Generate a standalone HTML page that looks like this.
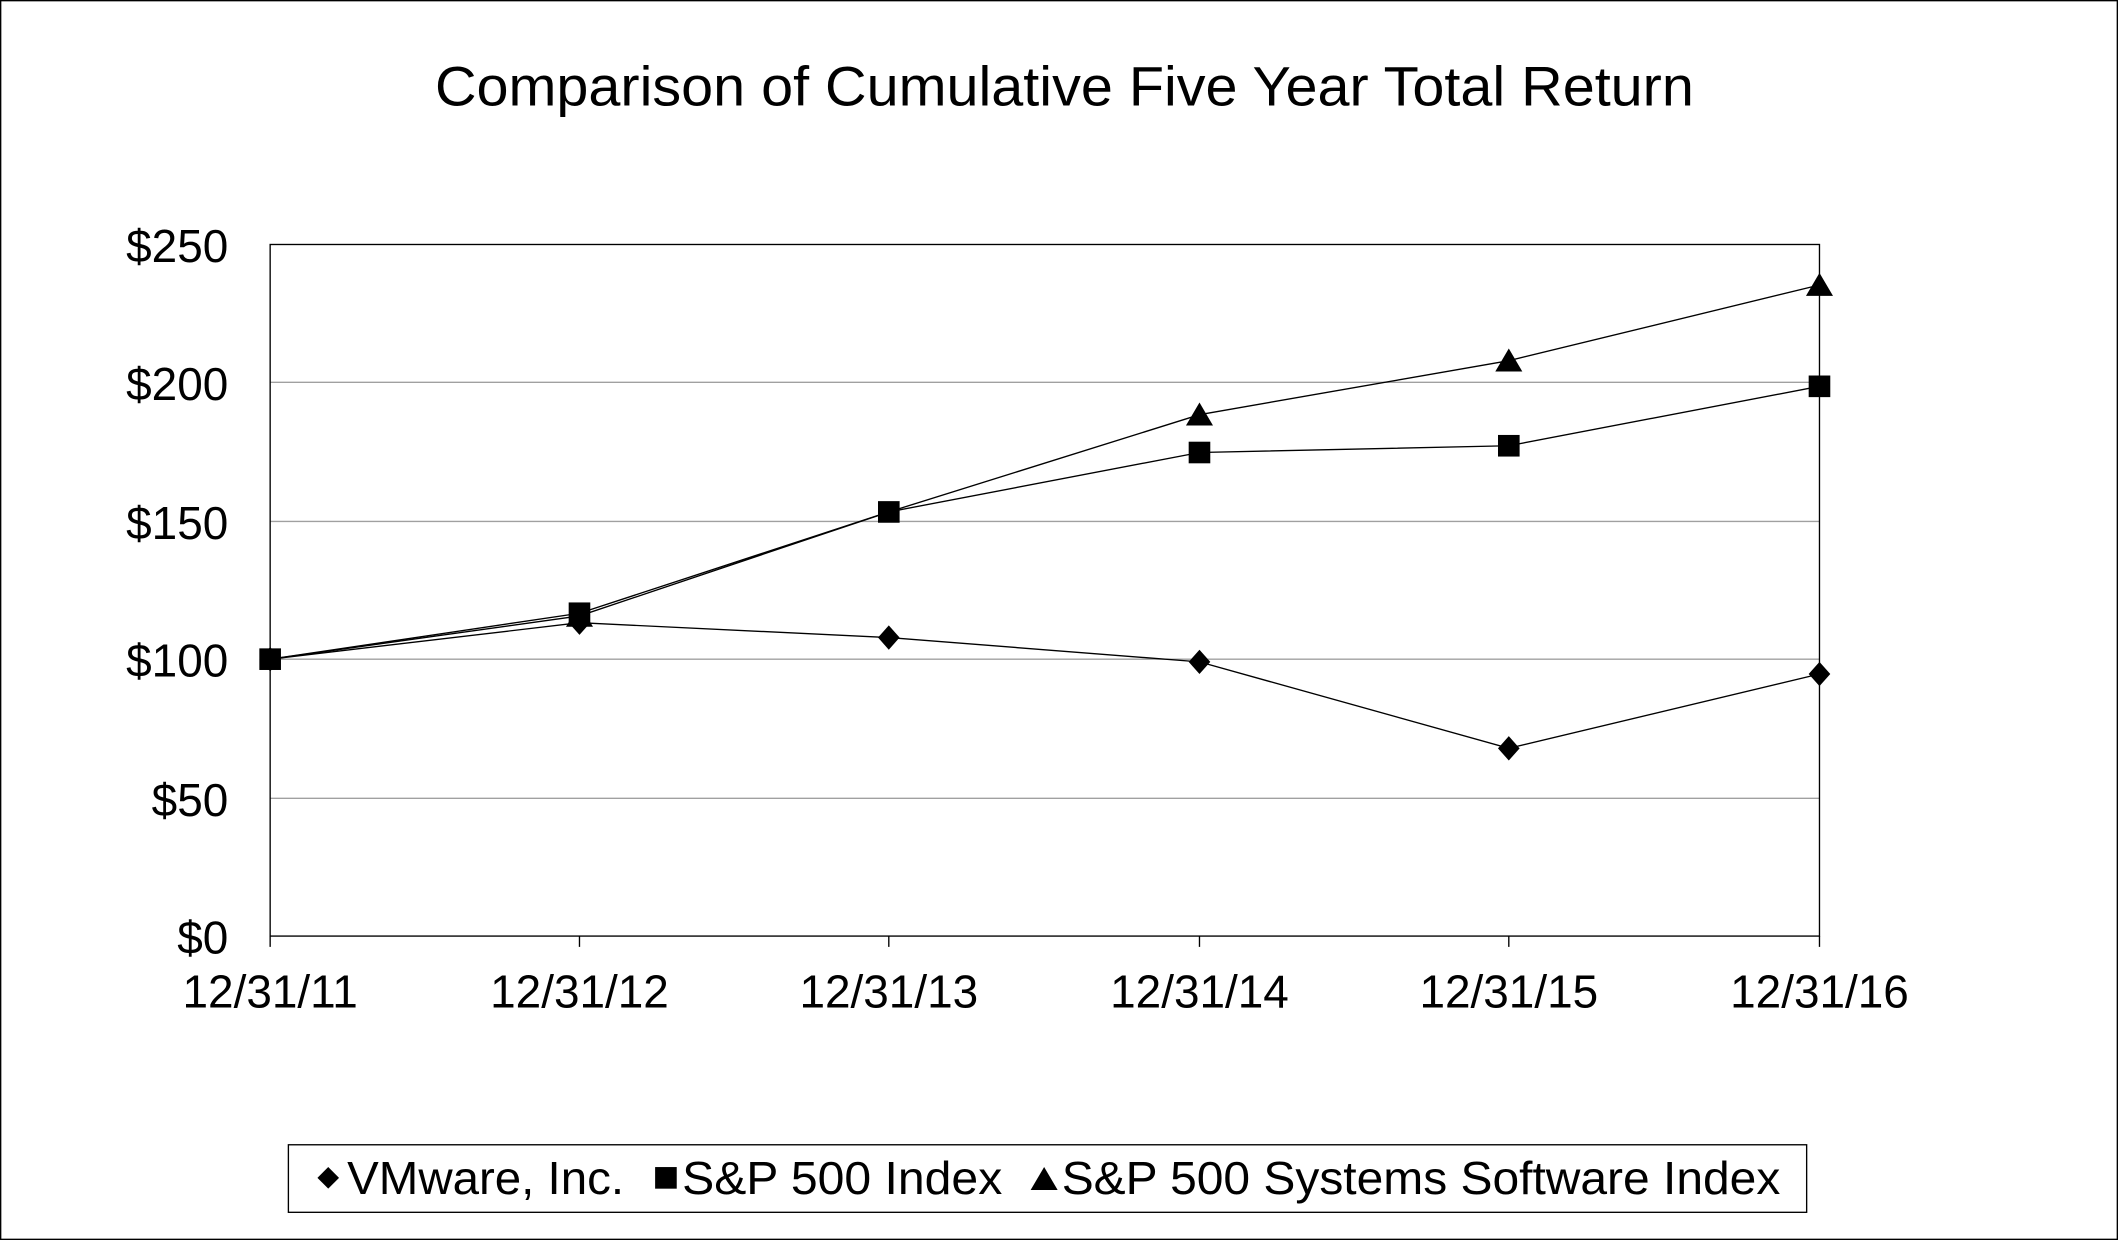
<!DOCTYPE html>
<html><head><meta charset="utf-8"><style>
html,body{margin:0;padding:0;background:#fff;}
svg{display:block;}
text{font-family:"Liberation Sans",Arial,sans-serif;fill:#000;}
</style></head><body>
<svg width="2118" height="1240" viewBox="0 0 1568 918" xmlns="http://www.w3.org/2000/svg">
<rect x="0.5" y="0.5" width="1567" height="917" fill="#fff" stroke="#000" stroke-width="1"/>
<text x="322" y="78" font-size="41" textLength="932" lengthAdjust="spacingAndGlyphs">Comparison of Cumulative Five Year Total Return</text>
<g stroke="#a0a0a0" stroke-width="1">
<line x1="200" y1="283" x2="1347" y2="283"/>
<line x1="200" y1="386" x2="1347" y2="386"/>
<line x1="200" y1="488" x2="1347" y2="488"/>
<line x1="200" y1="591" x2="1347" y2="591"/>
</g>
<rect x="200" y="181" width="1147" height="512" fill="none" stroke="#000" stroke-width="1"/>
<g stroke="#000" stroke-width="1">
<line x1="200" y1="693" x2="200" y2="701"/><line x1="429" y1="693" x2="429" y2="701"/>
<line x1="658" y1="693" x2="658" y2="701"/><line x1="888" y1="693" x2="888" y2="701"/>
<line x1="1117" y1="693" x2="1117" y2="701"/><line x1="1347" y1="693" x2="1347" y2="701"/>
</g>
<g font-size="34" text-anchor="end">
<text x="169" y="194">$250</text><text x="169" y="296">$200</text>
<text x="169" y="399">$150</text><text x="169" y="501">$100</text>
<text x="169" y="604">$50</text><text x="169" y="706">$0</text>
</g>
<g font-size="34" text-anchor="middle">
<text x="200" y="746">12/31/11</text><text x="429" y="746">12/31/12</text>
<text x="658" y="746">12/31/13</text><text x="888" y="746">12/31/14</text>
<text x="1117" y="746">12/31/15</text><text x="1347" y="746">12/31/16</text>
</g>
<g fill="none" stroke="#000" stroke-width="1">
<polyline points="200,488 429,461 658,472 888,490 1117,554 1347,499"/>
<polyline points="200,488 429,454 658,379 888,335 1117,330 1347,286"/>
<polyline points="200,488 429,456 658,379 888,307 1117,267 1347,211"/>
</g>
<g fill="#000">
<path d="M429,452 l8,9 -8,9 -8,-9z"/><path d="M658,463 l8,9 -8,9 -8,-9z"/>
<path d="M888,481 l8,9 -8,9 -8,-9z"/><path d="M1117,545 l8,9 -8,9 -8,-9z"/><path d="M1347,490 l8,9 -8,9 -8,-9z"/>
<path d="M200,479 l8,9 -8,9 -8,-9z"/>
<path d="M878,315 l10,-17 10,17z"/><path d="M1107,275 l10,-17 10,17z"/><path d="M1337,219 l10,-17 10,17z"/>
<path d="M419,464 l10,-17 10,17z"/>
<rect x="192" y="480" width="16" height="16"/><rect x="421" y="446" width="16" height="16"/>
<rect x="650" y="371" width="16" height="16"/><rect x="880" y="327" width="16" height="16"/>
<rect x="1109" y="322" width="16" height="16"/><rect x="1339" y="278" width="16" height="16"/>
</g>
<rect x="213.5" y="847.5" width="1124" height="50" fill="#fff" stroke="#000" stroke-width="1"/>
<path d="M243,864 l8,8 -8,8 -8,-8z" fill="#000"/>
<rect x="485" y="864" width="16" height="16" fill="#000"/>
<path d="M763,881 l10,-17 10,17z" fill="#000"/>
<g font-size="34">
<text x="257" y="884" textLength="205" lengthAdjust="spacingAndGlyphs">VMware, Inc.</text>
<text x="505" y="884" textLength="237" lengthAdjust="spacingAndGlyphs">S&amp;P 500 Index</text>
<text x="786" y="884" textLength="532" lengthAdjust="spacingAndGlyphs">S&amp;P 500 Systems Software Index</text>
</g>
</svg>
</body></html>
